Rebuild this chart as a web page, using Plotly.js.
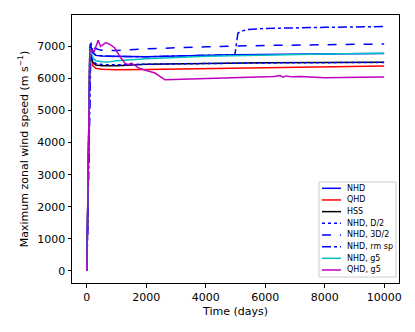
<!DOCTYPE html>
<html>
<head>
<meta charset="utf-8">
<script src="https://cdn.plot.ly/plotly-3.0.1.min.js"></script>
<style>
  body { margin: 0; background: #fff; }
  #chartDiv { width: 415px; height: 332px; }
</style>
</head>
<body>
<div id="chartDiv"></div>
<script>
// Time axis (days) and max zonal wind speed (m/s) for each run
const tNHD = [0, 110, 200, 300, 500, 1000, 2000, 3000, 5000, 7500, 10000];
const vNHD = [0, 7080, 6800, 6720, 6700, 6685, 6675, 6700, 6740, 6765, 6780];

const tQHD = [0, 100, 200, 300, 500, 1000, 2000, 4000, 6000, 8000, 10000];
const vQHD = [0, 6900, 6400, 6320, 6290, 6275, 6280, 6305, 6335, 6365, 6390];

const tHSS = [0, 100, 200, 300, 500, 1000, 2000, 4000, 6000, 8000, 10000];
const vHSS = [0, 6950, 6500, 6420, 6395, 6400, 6445, 6475, 6488, 6496, 6505];

const tHalf = [0, 100, 200, 300, 600, 1000, 2000, 4000, 6000, 8000, 10000];
const vHalf = [0, 6980, 6560, 6460, 6430, 6425, 6445, 6470, 6485, 6493, 6500];

const tThreeHalf = [0, 130, 250, 450, 700, 1000, 2000, 4000, 6000, 8000, 10000];
const vThreeHalf = [0, 7110, 6950, 6885, 6870, 6875, 6925, 6990, 7030, 7055, 7075];

const tRmSp = [0, 140, 200, 300, 500, 1000, 2000, 3000, 4980, 5080, 5180, 5400, 6000, 8000, 10000];
const vRmSp = [0, 7120, 6820, 6725, 6705, 6685, 6675, 6705, 6745, 7410, 7470, 7530, 7560, 7595, 7620];

const tG5 = [0, 100, 200, 300, 500, 700, 1000, 2000, 4000, 6000, 8000, 10000];
const vG5 = [0, 6950, 6650, 6550, 6520, 6510, 6550, 6615, 6690, 6735, 6765, 6785];

const tQG5 = [0, 100, 250, 380, 460, 540, 640, 800, 940, 1100, 1280, 1390, 1500, 1600, 1730, 2000, 2290, 2630,
              3000, 3600, 4700, 5800, 6300, 6500, 6600, 6700, 6900, 7200, 8000, 9200, 10000];
const vQG5 = [0, 6900, 6850, 7190, 7000, 7060, 7120, 7050, 6950, 6700, 6480, 6430, 6480, 6420, 6330, 6250, 6170, 5960,
              5970, 5995, 6015, 6045, 6060, 6095, 6040, 6080, 6050, 6060, 6020, 6040, 6045];

const names = ['NHD', 'QHD', 'HSS', 'NHD, D/2', 'NHD, 3D/2', 'NHD, rm sp', 'NHD, g5', 'QHD, g5'];
const colors = ['#0000ff', '#ff0000', '#000000', '#0000ff', '#0000ff', '#0000ff', '#00bfbf', '#bf00bf'];
const dashes = ['solid', 'solid', 'solid', 'dot', 'dash', 'dashdot', 'solid', 'solid'];

const xTicks = [0, 2000, 4000, 6000, 8000, 10000];
const yTicks = [0, 1000, 2000, 3000, 4000, 5000, 6000, 7000];

const series = [
  [tNHD, vNHD], [tQHD, vQHD], [tHSS, vHSS], [tHalf, vHalf],
  [tThreeHalf, vThreeHalf], [tRmSp, vRmSp], [tG5, vG5], [tQG5, vQG5]
];

const traces = series.map((s, i) => ({
  x: s[0], y: s[1], name: names[i], type: 'scatter', mode: 'lines',
  line: { color: colors[i], width: 1.5, dash: dashes[i] },
  showlegend: false
}));

// plot area in pixels (matplotlib-like box)
const W = 415, H = 332;
const L = 72, R = 399, T = 15, B = 283;
const px = x => (x - L) / (R - L);
const py = y => (B - y) / (B - T);

// hand-made legend so entries can sit close like matplotlib's
const shapes = [{
  type: 'rect', xref: 'paper', yref: 'paper',
  x0: px(319), x1: px(396), y0: py(277), y1: py(182),
  line: { color: '#cccccc', width: 1 }, fillcolor: 'rgba(255,255,255,0.8)'
}];
const annotations = [];
names.forEach((n, i) => {
  const yc = 188.3 + i * 11.67;
  shapes.push({
    type: 'line', xref: 'paper', yref: 'paper',
    x0: px(322), x1: px(341), y0: py(yc), y1: py(yc),
    line: { color: colors[i], width: 1.5, dash: dashes[i] }
  });
  annotations.push({
    xref: 'paper', yref: 'paper', x: px(345), y: py(yc),
    xanchor: 'left', yanchor: 'middle', showarrow: false,
    text: n, font: { size: 8, color: '#000' }
  });
});

const axisStyle = {
  showline: true, mirror: true, linecolor: '#000', linewidth: 1,
  ticks: 'outside', ticklen: 3.5, tickwidth: 0.8, tickcolor: '#000',
  showgrid: false, zeroline: false,
  tickfont: { size: 11, color: '#000' }
};

const layout = {
  width: W, height: H,
  margin: { l: L, r: W - R, t: T, b: H - B },
  paper_bgcolor: '#fff', plot_bgcolor: '#fff',
  font: { family: 'DejaVu Sans', color: '#000' },
  showlegend: false,
  shapes: shapes,
  annotations: annotations,
  xaxis: Object.assign({}, axisStyle, {
    range: [-500, 10500], tickvals: xTicks, ticktext: xTicks.map(String),
    title: { text: 'Time (days)', font: { size: 11 }, standoff: 4 }
  }),
  yaxis: Object.assign({}, axisStyle, {
    range: [-380, 7980], tickvals: yTicks, ticktext: yTicks.map(String),
    title: { text: 'Maximum zonal wind speed (m s<sup>−1</sup>)', font: { size: 11 }, standoff: 6 }
  })
};

Plotly.newPlot('chartDiv', traces, layout, { displayModeBar: false });
</script>
</body>
</html>
